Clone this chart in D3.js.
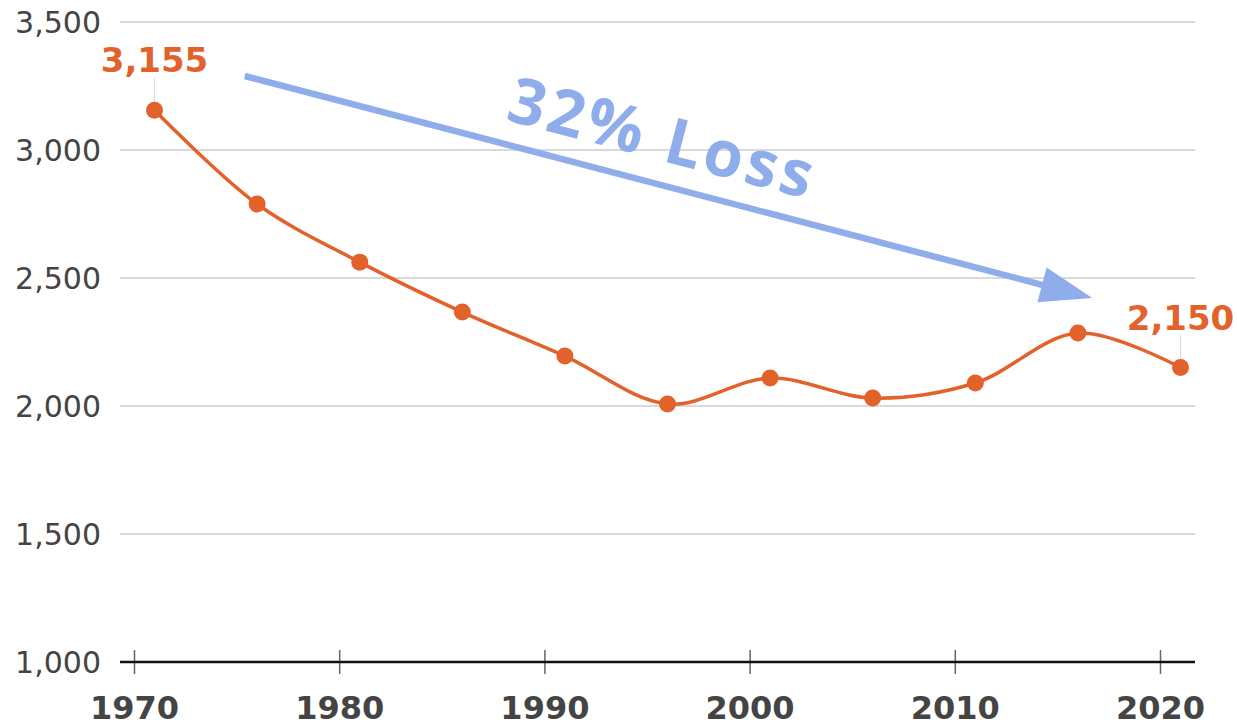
<!DOCTYPE html>
<html>
<head>
<meta charset="utf-8">
<script src="https://cdn.jsdelivr.net/npm/d3@7"></script>
<style>
  body { margin: 0; background: #fff; }
  svg { display: block; }
</style>
</head>
<body>
<script>
// chart size
var width = 1237;
var height = 727;

// data
var years = [1971, 1976, 1981, 1986, 1991, 1996, 2001, 2006, 2011, 2016, 2021];
var values = [3155, 2789, 2562, 2367, 2195, 2008, 2109, 2031, 2090, 2285, 2150];
var xTicks = [1970, 1980, 1990, 2000, 2010, 2020];
var yTicks = [1000, 1500, 2000, 2500, 3000, 3500];
var labelled = [0, 10];              // indexes that get a value label
var arrowFrom = [1975.4, 3289];      // annotation arrow, in data units
var arrowTo = [2016.7, 2422];
var noteText = "32% Loss";
var notePos = [1995.7, 3051];

var orange = "#e2622b";
var blue = "#8fadea";

var x = d3.scaleLinear().domain([1970, 2020]).range([134, 1160]);
var y = d3.scaleLinear().domain([1000, 3500]).range([662, 22]);

var svg = d3.select("body")
    .append("svg")
    .attr("width", width)
    .attr("height", height);

// gridlines
svg.append("g")
    .selectAll("line")
    .data(yTicks.slice(1))
    .enter()
    .append("line")
    .attr("x1", 120)
    .attr("x2", 1195)
    .attr("y1", function(d) { return y(d); })
    .attr("y2", function(d) { return y(d); })
    .style("stroke", "#cccccc")
    .style("stroke-width", 1.5);

// y labels
svg.append("g")
    .selectAll("text")
    .data(yTicks)
    .enter()
    .append("text")
    .attr("x", 101)
    .attr("y", function(d) { return y(d); })
    .attr("dy", "0.36em")
    .attr("text-anchor", "end")
    .style("font-family", "'DejaVu Sans', Verdana, sans-serif")
    .style("font-size", "30px")
    .style("fill", "#444")
    .text(function(d) { return d3.format(",")(d); });

// x axis
var xAxis = d3.axisBottom(x)
    .tickValues(xTicks)
    .tickFormat(d3.format("d"))
    .tickSize(0)
    .tickPadding(34);

var gx = svg.append("g")
    .attr("transform", "translate(0," + y(1000) + ")")
    .call(xAxis);
gx.select(".domain").remove();
gx.append("line")
    .attr("x1", 120).attr("x2", 1195)
    .style("stroke", "#111")
    .style("stroke-width", 2.5);
gx.selectAll(".tick").append("line")
    .attr("y1", -12).attr("y2", 12)
    .style("stroke", "#666")
    .style("stroke-width", 1.5);
gx.selectAll(".tick text")
    .style("font-family", "'DejaVu Sans', Verdana, sans-serif")
    .style("font-weight", "bold")
    .style("font-size", "32px")
    .style("fill", "#444");

var pts = years.map(function(d, i) { return [d, values[i]]; });

// line
var line = d3.line()
    .x(function(d) { return x(d[0]); })
    .y(function(d) { return y(d[1]); })
    .curve(d3.curveCatmullRom.alpha(0.5));

svg.append("path")
    .datum(pts)
    .attr("d", line)
    .style("fill", "none")
    .style("stroke", orange)
    .style("stroke-width", 3.5);

// leader lines for labels
svg.append("g")
    .selectAll("line")
    .data(labelled)
    .enter()
    .append("line")
    .attr("x1", function(i) { return x(years[i]); })
    .attr("x2", function(i) { return x(years[i]); })
    .attr("y1", function(i) { return y(values[i]) - 33; })
    .attr("y2", function(i) { return y(values[i]) - 8; })
    .style("stroke", "#dddddd")
    .style("stroke-width", 1.2);

// points
svg.append("g")
    .selectAll("circle")
    .data(pts)
    .enter()
    .append("circle")
    .attr("cx", function(d) { return x(d[0]); })
    .attr("cy", function(d) { return y(d[1]); })
    .attr("r", 8.5)
    .style("fill", orange);

// value labels
svg.append("g")
    .selectAll("text")
    .data(labelled)
    .enter()
    .append("text")
    .attr("x", function(i) { return x(years[i]); })
    .attr("y", function(i) { return y(values[i]) - 38; })
    .attr("text-anchor", "middle")
    .style("font-family", "'DejaVu Sans', Verdana, sans-serif")
    .style("font-weight", "bold")
    .style("font-size", "34px")
    .style("fill", orange)
    .text(function(i) { return d3.format(",")(values[i]); });

// arrow annotation
var ax1 = x(arrowFrom[0]), ay1 = y(arrowFrom[1]);
var ax2 = x(arrowTo[0]), ay2 = y(arrowTo[1]);
var ang = Math.atan2(ay2 - ay1, ax2 - ax1);
var deg = ang * 180 / Math.PI;
var len = Math.sqrt((ax2 - ax1) * (ax2 - ax1) + (ay2 - ay1) * (ay2 - ay1));
var headLen = 52, headHalf = 18;

var arrow = svg.append("g")
    .attr("transform", "translate(" + ax1 + "," + ay1 + ") rotate(" + deg + ")");
arrow.append("line")
    .attr("x1", 0).attr("y1", 0)
    .attr("x2", len - headLen + 2).attr("y2", 0)
    .style("stroke", blue)
    .style("stroke-width", 6.5);
arrow.append("path")
    .attr("d", "M" + len + ",0L" + (len - headLen) + "," + (-headHalf) + "L" + (len - headLen) + "," + headHalf + "Z")
    .style("fill", blue);

svg.append("text")
    .attr("transform", "translate(" + x(notePos[0]) + "," + y(notePos[1]) + ") rotate(" + deg + ")")
    .attr("text-anchor", "middle")
    .attr("dy", "0.36em")
    .attr("textLength", 312)
    .attr("lengthAdjust", "spacing")
    .style("font-family", "'Open Sans', sans-serif")
    .style("font-weight", "700")
    .style("font-size", "64px")
    .style("fill", blue)
    .text(noteText);
</script>
</body>
</html>
